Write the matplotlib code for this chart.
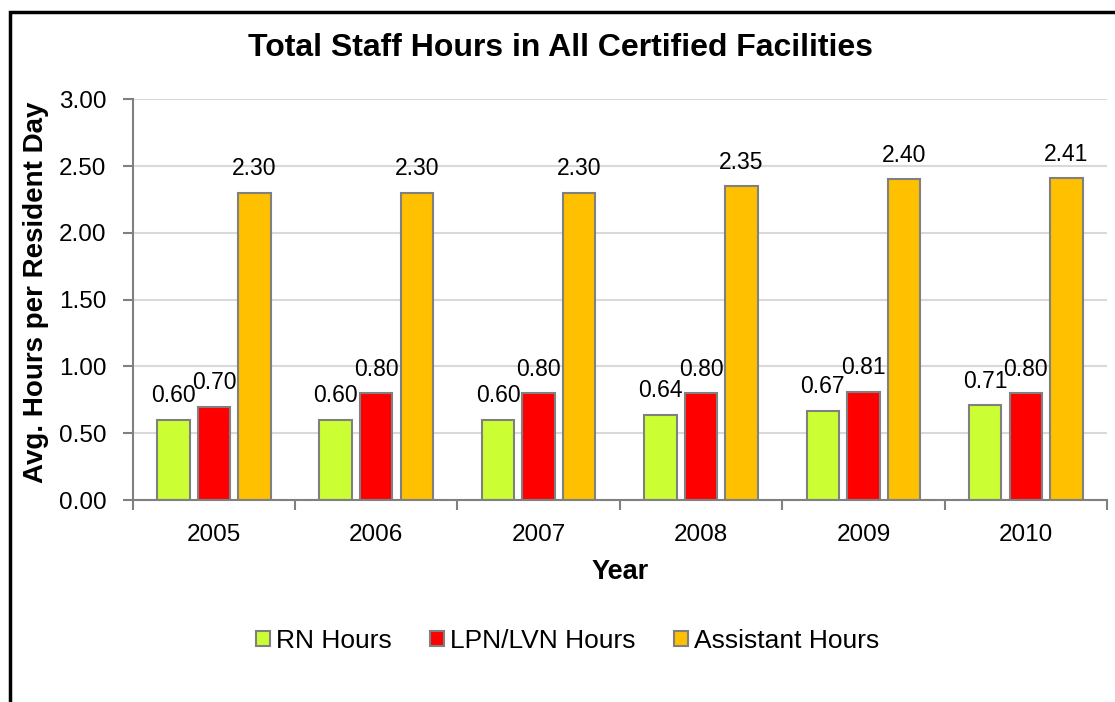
import matplotlib
matplotlib.use("Agg")
import matplotlib.pyplot as plt
import numpy as np
from matplotlib.patches import Rectangle, Patch

plt.rcParams['font.family'] = ['Liberation Sans', 'DejaVu Sans']

years = ["2005", "2006", "2007", "2008", "2009", "2010"]
rn_hours = [0.60, 0.60, 0.60, 0.64, 0.67, 0.71]
lpn_hours = [0.70, 0.80, 0.80, 0.80, 0.81, 0.80]
assistant_hours = [2.30, 2.30, 2.30, 2.35, 2.40, 2.41]
series_names = ["RN Hours", "LPN/LVN Hours", "Assistant Hours"]
colors = ["#CCFF33", "#FF0000", "#FFC000"]
yticks = [0.0, 0.5, 1.0, 1.5, 2.0, 2.5, 3.0]

fig = plt.figure(figsize=(11.15, 7.02), dpi=100)
ax = fig.add_axes([0.119, 0.2877, 0.8738, 0.5708])

x = np.arange(len(years))
width = 0.2
offsets = [-0.25, 0.0, 0.25]
edge = "#808080"
for vals, off, col in zip([rn_hours, lpn_hours, assistant_hours], offsets, colors):
    bars = ax.bar(x + off, vals, width, color=col, edgecolor=edge, linewidth=1.5, zorder=3)
    for b, v in zip(bars, vals):
        ax.annotate(f"{v:.2f}", (b.get_x() + b.get_width() / 2, v),
                    xytext=(0, 9), textcoords="offset points",
                    ha="center", va="bottom", fontsize=16.5, color="black")

ax.set_xlim(-0.5, len(years) - 0.5)
ax.set_ylim(0, 3.0)
ax.set_yticks(yticks)
ax.set_yticklabels([f"{t:.2f}" for t in yticks])
ax.set_xticks(x)
ax.set_xticklabels(years)
ax.set_xticks(np.arange(-0.5, len(years)), minor=True)
ax.tick_params(axis="x", which="major", length=0, pad=17, labelsize=17.5)
ax.tick_params(axis="x", which="minor", length=7, width=1.5, color=edge, direction="out")
ax.tick_params(axis="y", length=7, width=1.5, color=edge, direction="out", pad=12, labelsize=17.5)

ax.grid(axis="y", color="#d9d9d9", linewidth=1.5, zorder=0)
for s in ["top", "right"]:
    ax.spines[s].set_visible(False)
for s in ["left", "bottom"]:
    ax.spines[s].set_color(edge)
    ax.spines[s].set_linewidth(1.5)
    ax.spines[s].set_zorder(4)

fig.text(0.5027, 0.9316, "Total Staff Hours in All Certified Facilities",
         ha="center", va="center", fontsize=23, fontweight="bold")
fig.text(0.032, 0.584, "Avg. Hours per Resident Day", rotation=90,
         ha="center", va="center", fontsize=20, fontweight="bold")
fig.text(0.556, 0.185, "Year", ha="center", va="center", fontsize=19.5, fontweight="bold")

handles = [Patch(facecolor=c, edgecolor=edge, linewidth=1.5) for c in colors]
fig.legend(handles, series_names, loc="center", bbox_to_anchor=(0.509, 0.087),
           ncol=3, frameon=False, fontsize=19, handlelength=0.53, handleheight=0.53,
           handletextpad=0.23, columnspacing=1.45)

fig.add_artist(Rectangle((10 / 1115, -0.1), 1.2, 1 - 12 / 702 + 0.1,
                         transform=fig.transFigure, fill=False,
                         edgecolor="black", linewidth=2.5))

fig.savefig("out.png", dpi=100)
